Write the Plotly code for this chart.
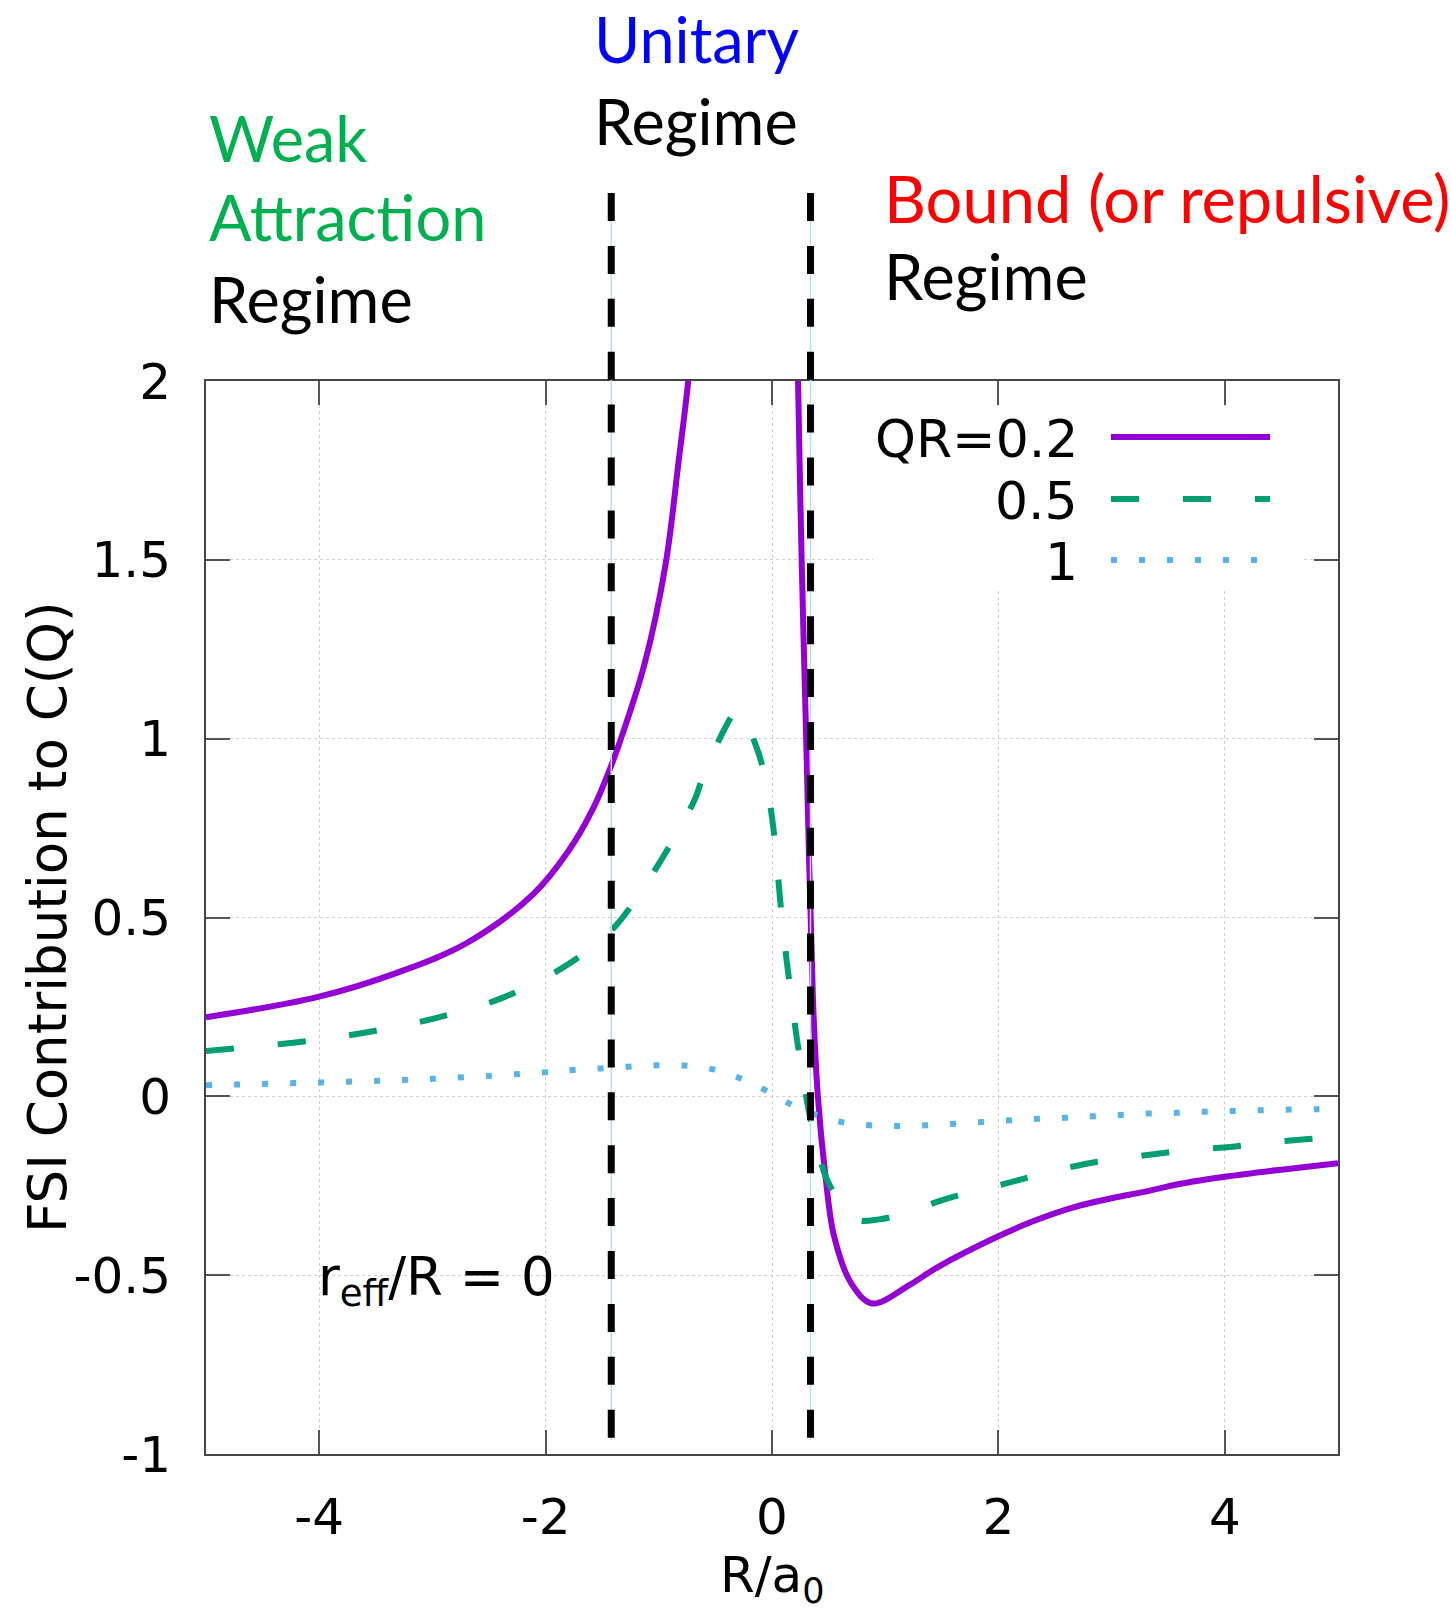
import plotly.graph_objects as go

# ---------------- data ----------------
x_qr02 = [-5.0, -4.01, -3.29, -2.70, -2.11, -1.8, -1.58, -1.42, -1.345, -1.125, -0.939, -0.824, -0.74, -0.66,
          None,
          0.21, 0.23, 0.262, 0.302, 0.362, 0.405, 0.473, 0.549, 0.70, 0.884, 1.217, 1.461, 1.994,
          2.3, 2.678, 3.0, 3.287, 3.6, 4.0, 4.5, 5.0]
y_qr02 = [0.221, 0.278, 0.348, 0.428, 0.565, 0.685, 0.805, 0.925, 0.99, 1.21, 1.49, 1.778, 2.0, 2.3,
          None,
          2.45, 2.0, 1.5, 1.0, 0.27, 0.0, -0.225, -0.392, -0.523, -0.579, -0.527, -0.478, -0.392,
          -0.350, -0.309, -0.285, -0.267, -0.245, -0.225, -0.205, -0.187]

x_qr05 = [-5.0, -4.23, -3.60, -2.98, -2.36, -1.787, -1.375, -0.698, -0.615, -0.447, -0.338, -0.29,
          -0.138, -0.073, 0.0, 0.1, 0.215, 0.25, 0.318, 0.368, 0.48, 0.592, 0.75, 0.945, 1.172,
          1.553, 1.79, 2.177, 2.405, 2.80, 3.037, 3.44, 3.682, 4.07, 4.314, 4.716, 5.0]
y_qr05 = [0.127, 0.150, 0.178, 0.218, 0.278, 0.372, 0.479, 0.819, 0.889, 1.010, 1.070, 1.08,
          0.977, 0.907, 0.78, 0.46, 0.171, 0.101, -0.029, -0.102, -0.229, -0.290, -0.345, -0.344, -0.327,
          -0.285, -0.267, -0.234, -0.215, -0.187, -0.176, -0.159, -0.150, -0.141, -0.131, -0.120, -0.112]

x_qr1 = [-5.0, -3.987, -3.0, -2.014, -1.763, -1.516, -1.269, -1.021, -0.774, -0.530, -0.294, -0.064,
         0.150, 0.377, 0.616, 0.863, 1.108, 1.355, 1.604, 1.851, 2.094, 2.344, 2.59, 2.83, 3.08,
         3.326, 3.576, 3.822, 4.068, 4.314, 4.565, 4.813, 5.0]
y_qr1 = [0.031, 0.039, 0.049, 0.067, 0.0735, 0.078, 0.083, 0.087, 0.086, 0.076, 0.052, 0.018,
         -0.020, -0.050, -0.072, -0.081, -0.083, -0.081, -0.077, -0.072, -0.067, -0.063, -0.060, -0.056, -0.052,
         -0.048, -0.046, -0.043, -0.041, -0.039, -0.037, -0.036, -0.035]

regime_bounds = [-1.42, 0.34]          # R/a0 positions of the vertical dashed lines

legend_labels = ["QR=0.2", "0.5", "1"]

x_tickvals = [-4, -2, 0, 2, 4]
x_ticktext = ["-4", "-2", "0", "2", "4"]
y_tickvals = [-1, -0.5, 0, 0.5, 1, 1.5, 2]
y_ticktext = ["-1", "-0.5", "0", "0.5", "1", "1.5", "2"]

# ---------------- styles ----------------
W, H = 1451, 1609
ML, MR, MT, MB = 206, 113, 381, 155
PW, PH = W - ML - MR, H - MT - MB


def px(x):
    return (x - ML) / PW


def py(y):
    return (H - MB - y) / PH


PLOT_FONT = "DejaVu Sans"
TOP_FONT = "Lato"
FS = 50
TFS = 63

purple = "#9400D3"
green = "#009E73"
blue = "#56B4E9"

styles = [
    dict(color=purple, width=6, dash="solid"),
    dict(color=green, width=6, dash="28px,44px"),
    dict(color=blue, width=6, dash="6px,22px"),
]

fig = go.Figure()
for xs, ys, st, name in zip([x_qr02, x_qr05, x_qr1], [y_qr02, y_qr05, y_qr1], styles, legend_labels):
    fig.add_trace(go.Scatter(x=xs, y=ys, mode="lines", name=name, showlegend=False,
                             line=dict(color=st["color"], width=st["width"], dash=st["dash"],
                                       shape="spline", smoothing=1.0),
                             connectgaps=False, hoverinfo="skip"))

shapes = []
# vertical regime boundaries
for xb in regime_bounds:
    shapes.append(dict(type="line", xref="x", yref="paper", x0=xb, x1=xb,
                       y0=py(193), y1=py(1440), line=dict(color="#b8e0e8", width=1.5),
                       layer="above"))
    shapes.append(dict(type="line", xref="x", yref="paper", x0=xb, x1=xb,
                       y0=py(193), y1=py(1440), line=dict(color="black", width=7, dash="28px,24.9px"),
                       layer="above"))
# white box behind the key (hides the grid)
shapes.append(dict(type="rect", xref="paper", yref="paper",
                   x0=px(873), x1=px(1303), y0=py(590), y1=py(406),
                   fillcolor="white", line=dict(width=0), layer="above"))

# key samples
key_rows = [437, 499, 560]
for st, yr in zip(styles, key_rows):
    shapes.append(dict(type="line", xref="paper", yref="paper", x0=px(1111), x1=px(1270),
                       y0=py(yr), y1=py(yr),
                       line=dict(color=st["color"], width=st["width"], dash=st["dash"]),
                       layer="above"))

annotations = []
for lab, yr in zip(legend_labels, key_rows):
    annotations.append(dict(text=lab, xref="paper", yref="paper", x=px(1080), y=py(yr + 2),
                            xanchor="right", yanchor="middle", showarrow=False,
                            font=dict(family=PLOT_FONT, size=52, color="black")))

annotations.append(dict(text="r<sub>eff</sub>/R = 0", xref="x", yref="y", x=-4.03, y=-0.515,
                        xanchor="left", yanchor="middle", showarrow=False,
                        font=dict(family=PLOT_FONT, size=53, color="black")))

# axis titles
annotations.append(dict(text="R/a<sub>0</sub>", xref="paper", yref="paper", x=0.5, y=py(1578),
                        xanchor="center", yanchor="middle", showarrow=False,
                        font=dict(family=PLOT_FONT, size=FS, color="black")))
annotations.append(dict(text="FSI Contribution to C(Q)", xref="paper", yref="paper", x=px(47), y=py(917),
                        xanchor="center", yanchor="middle", textangle=-90, showarrow=False,
                        font=dict(family=PLOT_FONT, size=53, color="black")))

# regime labels above the plot
top_texts = [
    ("Weak", "#00B050", 207, 138, TFS),
    ("Attraction", "#00B050", 207, 217, TFS),
    ("Regime", "black", 207, 299, TFS),
    ("Unitary", "#0000FF", 592, 39, TFS),
    ("Regime", "black", 592, 120, TFS),
    ("Bound (or repulsive)", "#FF0000", 882, 198, TFS + 2),
    ("Regime", "black", 882, 275, TFS),
]
for txt, col, xl, yc, fsz in top_texts:
    annotations.append(dict(text=txt, xref="paper", yref="paper", x=px(xl), y=py(yc),
                            xanchor="left", yanchor="middle", showarrow=False,
                            font=dict(family=TOP_FONT, size=fsz, color=col)))

axis_common = dict(showline=True, linecolor="#444444", linewidth=2, mirror="ticks",
                   ticks="inside", ticklen=24, tickwidth=2, tickcolor="#555555",
                   showgrid=True, gridcolor="#cfcfcf", gridwidth=1, griddash="dot",
                   zeroline=False, tickfont=dict(family=PLOT_FONT, size=FS, color="black"))

fig.update_layout(
    width=W, height=H,
    margin=dict(l=ML, r=MR, t=MT, b=MB, pad=0),
    paper_bgcolor="white", plot_bgcolor="white",
    showlegend=False,
    xaxis=dict(range=[-5, 5], tickvals=x_tickvals, ticktext=x_ticktext,
               ticklabelstandoff=18, **axis_common),
    yaxis=dict(range=[-1, 2], tickvals=y_tickvals, ticktext=y_ticktext,
               ticklabelstandoff=23, **axis_common),
    shapes=shapes,
    annotations=annotations,
)

fig.write_html("out.html", config={"displayModeBar": False},
               post_script="document.body.style.margin='0';")
